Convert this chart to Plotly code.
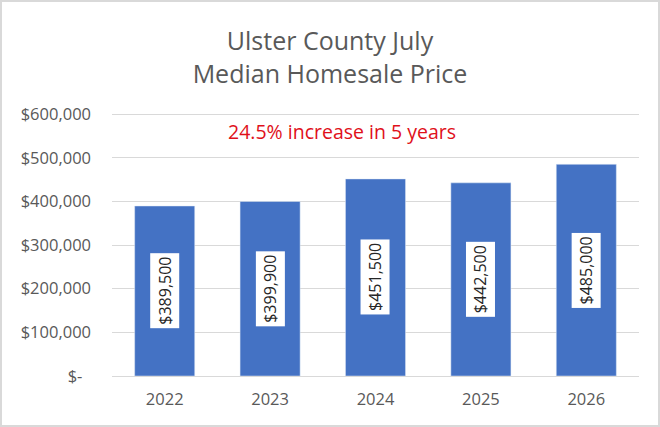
import plotly.graph_objects as go

# July median homesale price, Ulster County
years = ["2022", "2023", "2024", "2025", "2026"]
prices = [389500, 399900, 451500, 442500, 485000]
price_labels = ["$389,500", "$399,900", "$451,500", "$442,500", "$485,000"]

tick_vals = [0, 100000, 200000, 300000, 400000, 500000, 600000]
tick_text = ["$-\u00a0\u00a0", "$100,000", "$200,000", "$300,000", "$400,000", "$500,000", "$600,000"]

note = "24.5% increase in 5 years"

W, H = 660, 427
ml, mr, mt, mb = 112, 21, 113, 51
pw, ph = W - ml - mr, H - mt - mb
FONT = "Open Sans"

fig = go.Figure(go.Bar(x=years, y=prices, marker_color="#4472C4",
                       width=0.57, hoverinfo="skip"))

# vertical value labels in white boxes, at mid-height of each bar
# (x given as category index so it isn't read as a number)
for i, (p, lab) in enumerate(zip(prices, price_labels)):
    fig.add_annotation(x=i, y=p / 2, text=lab, textangle=-90, showarrow=False,
                       bgcolor="white", borderpad=3,
                       font=dict(family=FONT, size=16, color="#262626"))

fig.add_annotation(x=(342 - ml) / pw, xref="paper", y=560000, yref="y",
                   text=note, showarrow=False,
                   font=dict(family=FONT, size=19.5, color="#E0101A"))

# outer chart border
fig.add_shape(type="rect", xref="paper", yref="paper",
              x0=-(ml - 1) / pw, x1=1 + (mr - 1) / pw,
              y0=-(mb - 1) / ph, y1=1 + (mt - 1) / ph,
              line=dict(color="#D9D9D9", width=2))

fig.update_layout(
    width=W, height=H,
    margin=dict(l=ml, r=mr, t=mt, b=mb),
    paper_bgcolor="white", plot_bgcolor="white",
    title=dict(text="Ulster County July<br>Median Homesale Price",
               x=0.5, xanchor="center", y=1 - 50 / H, yanchor="middle",
               font=dict(family=FONT, size=25, color="#595959")),
    showlegend=False,
    bargap=0.43,
)
fig.update_xaxes(type="category", range=[-0.5, 4.5], showgrid=False, showline=True,
                 linecolor="#D9D9D9", linewidth=1, ticks="", ticklabelstandoff=8,
                 tickfont=dict(family=FONT, size=16.5, color="#595959"))
fig.update_yaxes(range=[0, 602500], tickvals=tick_vals, ticktext=tick_text,
                 showgrid=True, gridcolor="#D9D9D9", gridwidth=1, zeroline=False,
                 ticks="", ticklabelstandoff=20,
                 tickfont=dict(family=FONT, size=16.5, color="#595959"))

fig.write_html("out.html", config={"displayModeBar": False},
               post_script="document.body.style.margin='0';")
